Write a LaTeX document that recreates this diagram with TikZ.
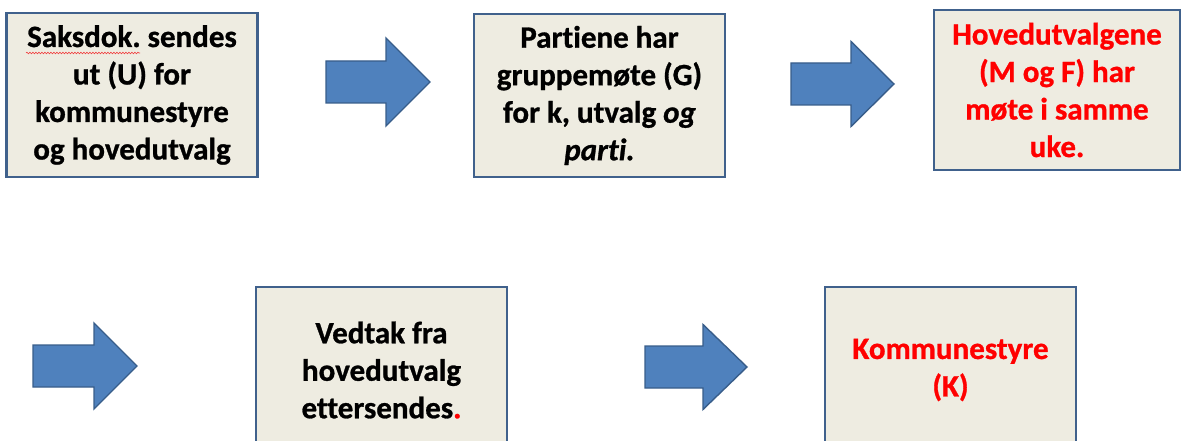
\documentclass[tikz,border=0pt]{standalone}
\usepackage{fontspec}
\setmainfont{Carlito}[BoldFeatures={FakeBold=0.9}, BoldItalicFeatures={FakeBold=0.9}, Ligatures=NoCommon]
\usetikzlibrary{decorations.pathmorphing}
\definecolor{boxfill}{HTML}{EEECE1}
\definecolor{boxline}{HTML}{40618C}
\definecolor{arrfill}{HTML}{4F81BD}
\definecolor{arrline}{HTML}{385D8A}
\definecolor{hot}{HTML}{FF0000}
\definecolor{spell}{HTML}{F04040}
\newcommand{\fatarrow}[6]{%
  \draw[bigarrow] (#1,#4-#5) -- (#2,#4-#5) -- (#2,#4-#6) -- (#3,#4) -- (#2,#4+#6) -- (#2,#4+#5) -- (#1,#4+#5) -- cycle;}
\frenchspacing
\begin{document}
\begin{tikzpicture}[x=1pt,y=-1pt,
  stepbox/.style={draw=boxline, line width=2.6pt, fill=boxfill, align=center,
    font=\fontsize{31}{37.5}\selectfont\bfseries, inner sep=0pt},
  bigarrow/.style={draw=arrline, line width=1.4pt, fill=arrfill, line join=miter}]
\useasboundingbox (0,0) rectangle (1184,441);
\clip (0,0) rectangle (1184,441);
\node[stepbox, minimum width=251pt, minimum height=164pt] (b1) at (132,95)
  {Saksdok. sendes\\ut (U) for\\kommunestyre\\og hovedutvalg};
\node[stepbox, minimum width=251pt, minimum height=163pt] (b2) at (599.5,95.5)
  {Partiene har\\gruppemøte (G)\\for k, utvalg \textit{og}\\\textit{parti.}};
\node[stepbox, minimum width=246pt, minimum height=160pt, text=hot] (b3) at (1057,90)
  {Hovedutvalgene\\(M og F) har\\møte i samme\\uke.};
\node[stepbox, minimum width=251pt, minimum height=166pt] (b4) at (381.5,370)
  {Vedtak fra\\hovedutvalg\\ettersendes{\color{hot}.}};
\node[stepbox, minimum width=251pt, minimum height=166pt, text=hot] (b5) at (950.5,370)
  {Kommunestyre\\(K)};
\fatarrow{326}{386}{430}{82}{21}{44}
\fatarrow{791}{851}{894}{84}{21}{42.5}
\fatarrow{33}{94}{137}{366}{21}{43}
\fatarrow{645}{703}{747}{367}{21}{42.5}
\draw[spell, line width=0.6pt, decorate, decoration={snake, amplitude=0.8pt, segment length=3pt}]
  (26,53) -- (140,53);
\end{tikzpicture}
\end{document}
